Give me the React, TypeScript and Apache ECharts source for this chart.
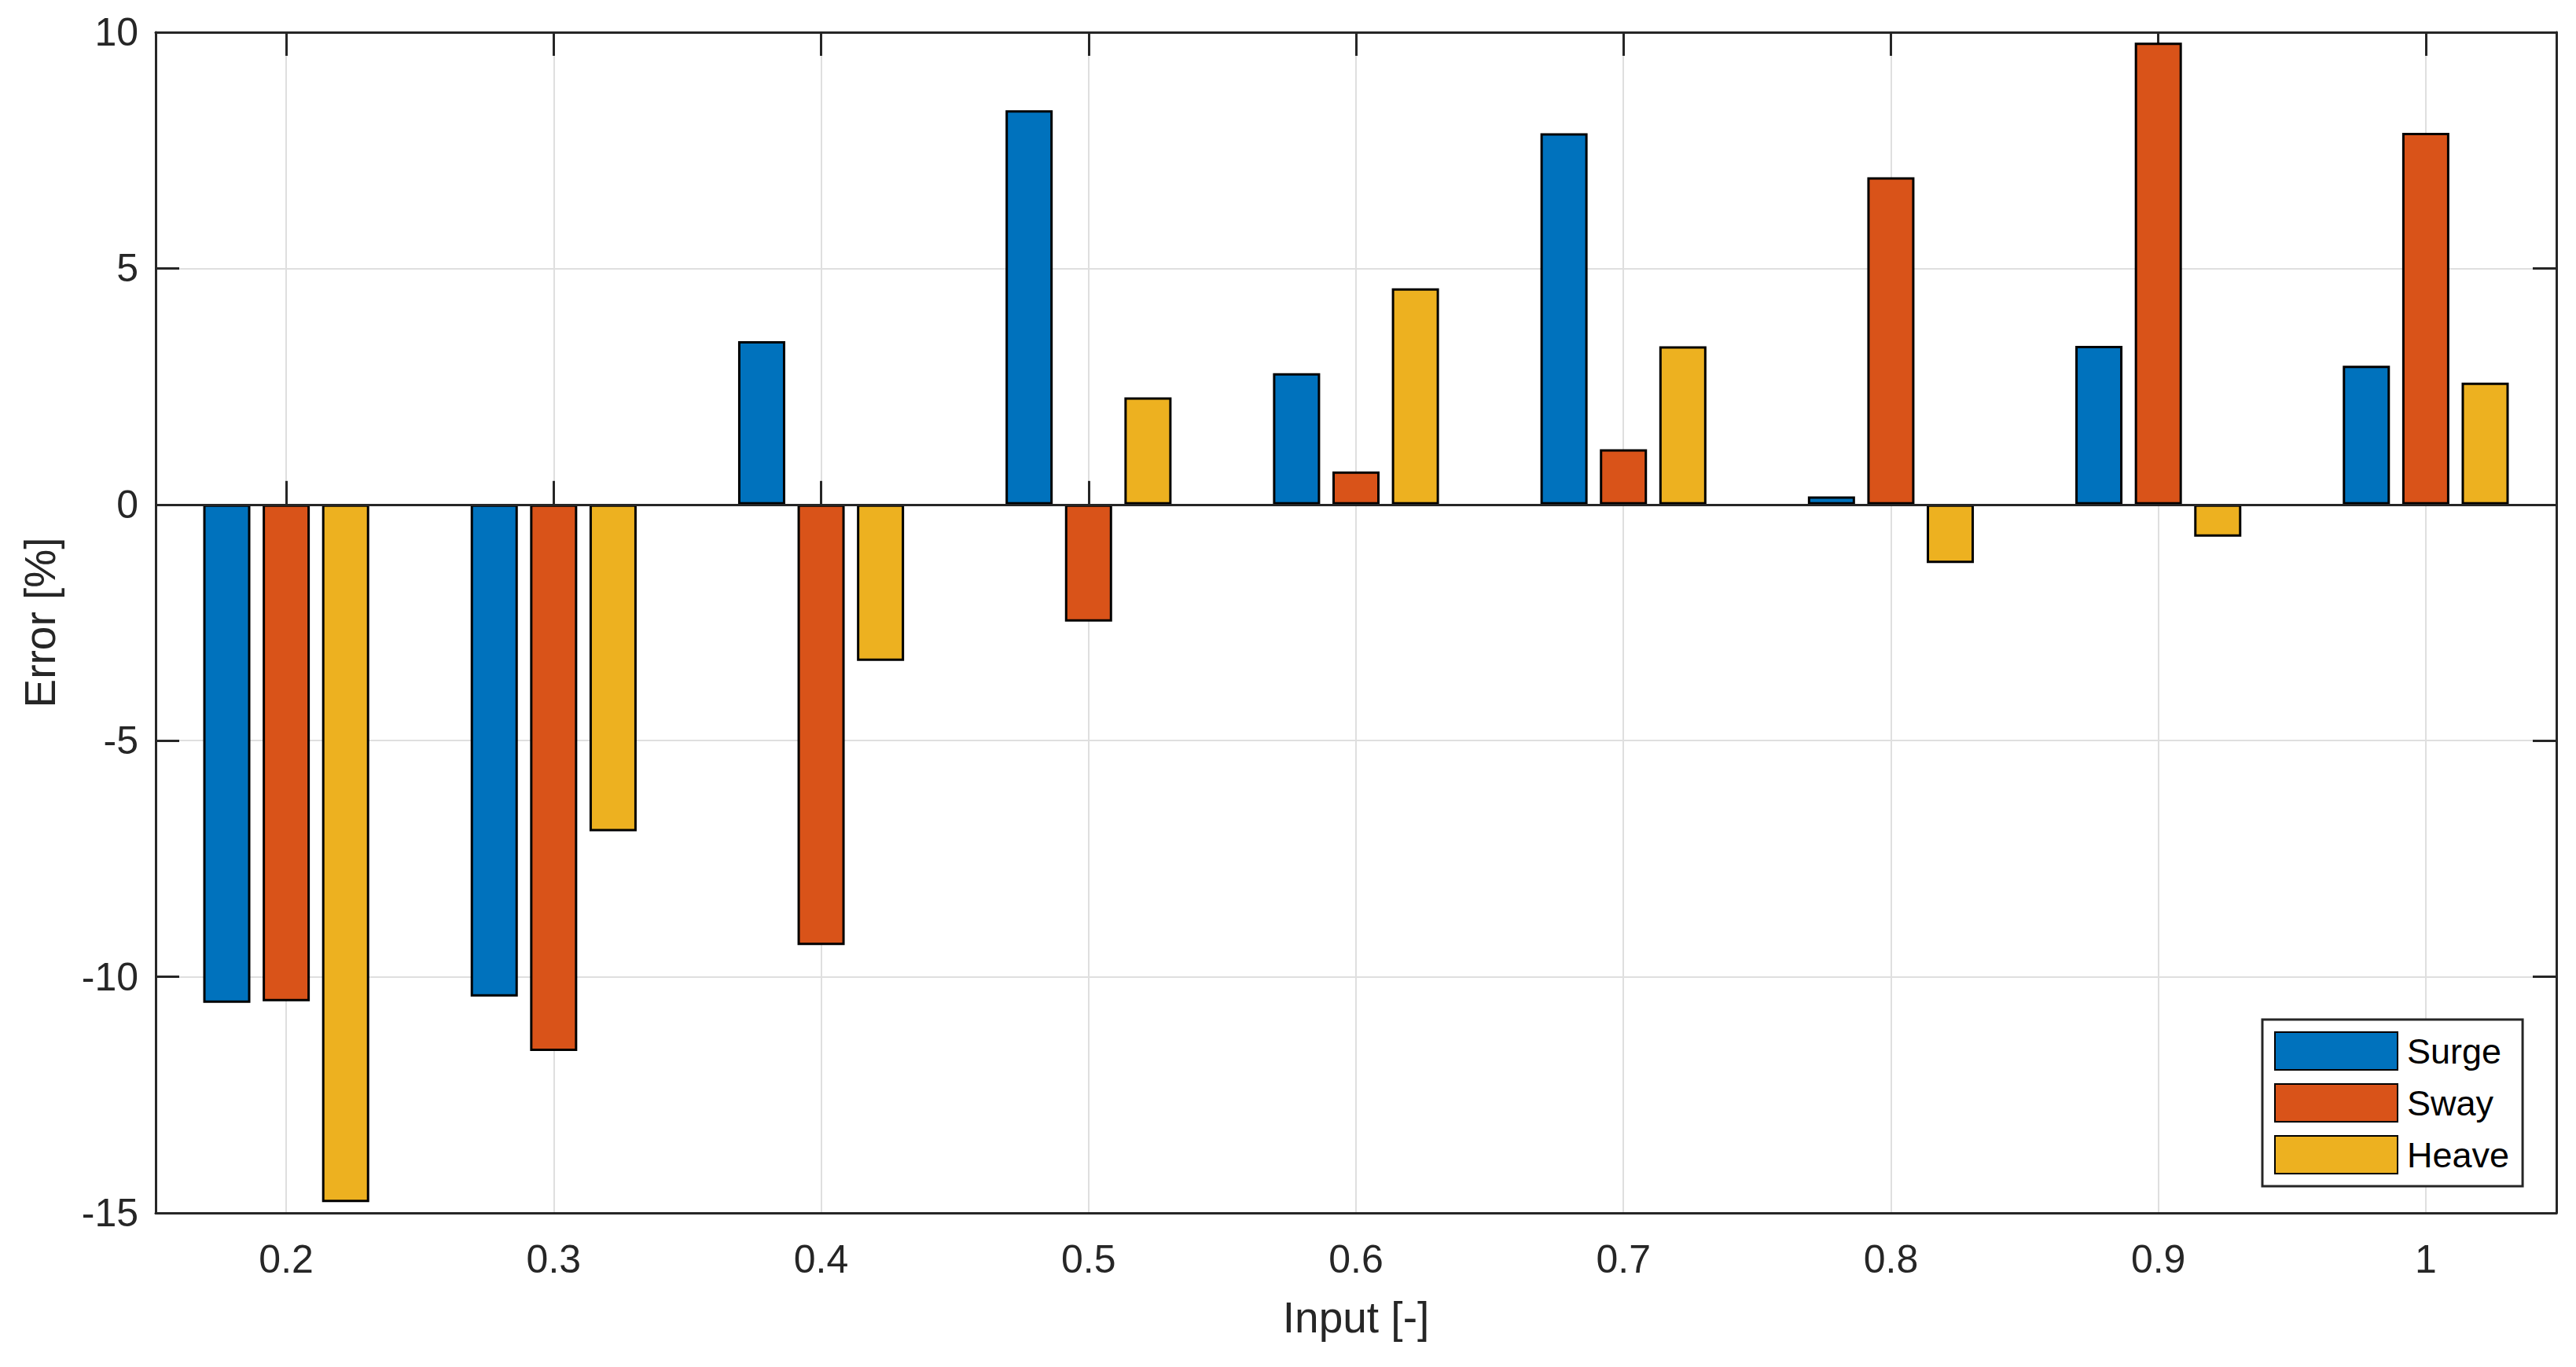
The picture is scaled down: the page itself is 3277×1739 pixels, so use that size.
import React, { useEffect, useRef } from "react";
import * as echarts from "echarts";

const categories = ["0.2", "0.3", "0.4", "0.5", "0.6", "0.7", "0.8", "0.9", "1"];
const surge = [-10.55, -10.42, 3.46, 8.35, 2.78, 7.86, 0.17, 3.36, 2.94];
const sway = [-10.52, -11.57, -9.33, -2.48, 0.7, 1.17, 6.93, 9.78, 7.87];
const heave = [-14.77, -6.92, -3.31, 2.27, 4.58, 3.35, -1.24, -0.68, 2.58];
const seriesNames = ["Surge", "Sway", "Heave"];
const seriesColors = ["#0072BD", "#D95319", "#EDB120"];
const yMin = -15;
const yMax = 10;
const yStep = 5;

const FONT = "'Liberation Sans', Arial, Helvetica, sans-serif";
const AX = "#262626";
const GRIDC = "#dfdfdf";

export default function App() {
  const ref = useRef<HTMLDivElement>(null);
  useEffect(() => {
    if (!ref.current) return;
    const chart = echarts.init(ref.current, null, { renderer: "svg" });
    const values = [surge, sway, heave];
    const catTick = { show: true, inside: true, length: 30, alignWithLabel: true, interval: 0, lineStyle: { color: AX, width: 3 } };
    const valTick = { show: true, inside: true, length: 30, lineStyle: { color: AX, width: 3 } };
    const frameLine = { show: true, onZero: false, lineStyle: { color: AX, width: 3 } };
    const option: any = {
      animation: false,
      backgroundColor: "#ffffff",
      textStyle: { fontFamily: FONT },
      grid: [
        { left: 194, top: 41, right: 21, bottom: 196, containLabel: false },
        { left: 198, top: 41, right: 25, bottom: 196, containLabel: false },
      ],
      legend: {
        orient: "vertical",
        left: 2878,
        top: 1297,
        data: seriesNames,
        icon: "rect",
        itemWidth: 156,
        itemHeight: 48,
        itemGap: 16,
        padding: [15, 17, 15, 15],
        borderColor: AX,
        borderWidth: 3,
        backgroundColor: "#ffffff",
        textStyle: { fontSize: 45, color: "#000", fontFamily: FONT, padding: [0, 0, 0, 7] },
      },
      xAxis: [
        {
          gridIndex: 0,
          type: "category",
          data: categories,
          position: "bottom",
          boundaryGap: true,
          name: "Input [-]",
          nameLocation: "middle",
          nameGap: 105,
          nameTextStyle: { fontSize: 55, color: AX, fontFamily: FONT },
          axisLine: { show: false },
          axisTick: catTick,
          axisLabel: { fontSize: 50, color: AX, margin: 34, interval: 0, fontFamily: FONT },
          splitLine: { show: true, alignWithLabel: true, interval: 0, lineStyle: { color: GRIDC, width: 2 } },
        },
        {
          gridIndex: 0,
          type: "category",
          data: categories,
          position: "top",
          boundaryGap: true,
          axisLine: { show: false },
          axisTick: catTick,
          axisLabel: { show: false },
          splitLine: { show: false },
        },
        {
          gridIndex: 1,
          type: "value",
          min: 0,
          max: 1,
          position: "bottom",
          axisLine: frameLine,
          axisTick: { show: false },
          axisLabel: { show: false },
          splitLine: { show: false },
        },
        {
          gridIndex: 1,
          type: "value",
          min: 0,
          max: 1,
          position: "top",
          axisLine: frameLine,
          axisTick: { show: false },
          axisLabel: { show: false },
          splitLine: { show: false },
        },
      ],
      yAxis: [
        {
          gridIndex: 0,
          type: "value",
          min: yMin,
          max: yMax,
          interval: yStep,
          show: false,
          splitLine: { show: false },
        },
        {
          gridIndex: 1,
          type: "value",
          min: yMin,
          max: yMax,
          interval: yStep,
          position: "left",
          name: "Error [%]",
          nameLocation: "middle",
          nameGap: 120,
          nameTextStyle: { fontSize: 55, color: AX, fontFamily: FONT },
          axisLine: frameLine,
          axisTick: valTick,
          axisLabel: { fontSize: 50, color: AX, margin: 22, fontFamily: FONT },
          splitLine: { show: true, lineStyle: { color: GRIDC, width: 2 } },
        },
        {
          gridIndex: 1,
          type: "value",
          min: yMin,
          max: yMax,
          interval: yStep,
          position: "right",
          axisLine: frameLine,
          axisTick: valTick,
          axisLabel: { show: false },
          splitLine: { show: false },
        },
      ],
      series: [
        ...seriesNames.map((name, i) => ({
          name,
          type: "bar",
          xAxisIndex: 0,
          yAxisIndex: 0,
          data: values[i],
          barWidth: 60,
          barGap: "26%",
          itemStyle: { color: seriesColors[i], borderColor: "#000", borderWidth: 3 },
          emphasis: { disabled: true },
        })),
        {
          name: "baseline",
          type: "line",
          xAxisIndex: 2,
          yAxisIndex: 1,
          data: [],
          silent: true,
          z: 3,
          markLine: {
            silent: true,
            symbol: "none",
            label: { show: false },
            lineStyle: { color: AX, width: 3, type: "solid" },
            data: [{ yAxis: 0 }],
          },
        },
      ],
    };
    chart.setOption(option);
    return () => chart.dispose();
  }, []);
  return <div ref={ref} style={{ position: "fixed", left: 0, top: 0, width: 3277, height: 1739 }} />;
}
